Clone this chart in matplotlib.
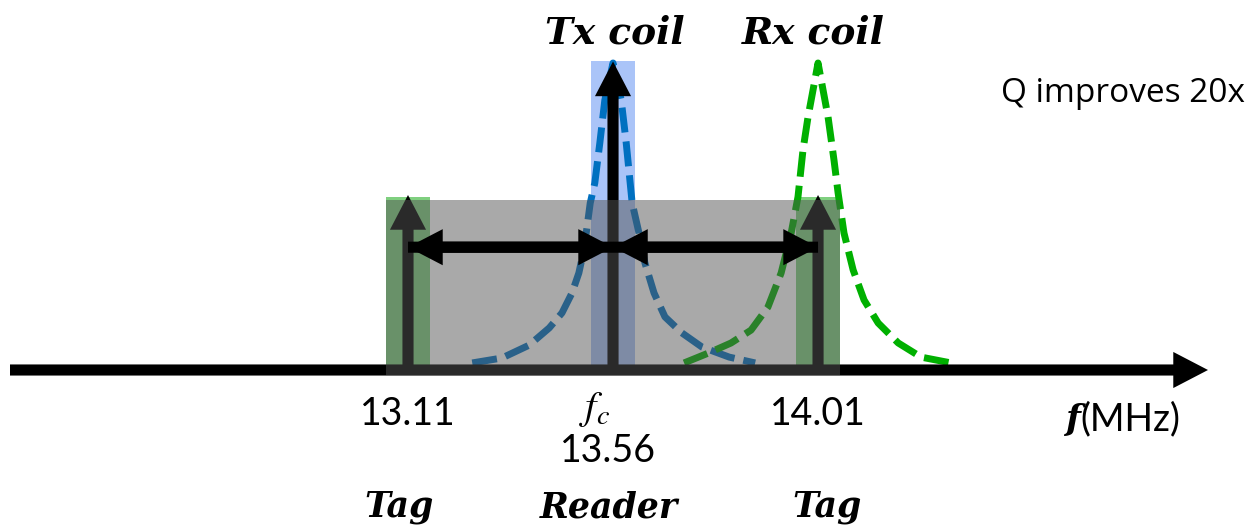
import matplotlib
matplotlib.use("Agg")
import matplotlib.pyplot as plt
from matplotlib.patches import Rectangle, FancyArrowPatch
from matplotlib.transforms import blended_transform_factory

# frequencies (MHz)
tag_freqs = [13.11, 14.01]
reader_freq = 13.56
tick_labels = ["13.11", "13.56", "14.01"]
tag_labels = ["Tag", "Tag"]

# resonance curves: offset from centre (MHz), relative amplitude
tx_df = [-0.309, -0.244, -0.184, -0.140, -0.112, -0.090, -0.075, -0.064, -0.057, -0.050,
         -0.040, -0.029, -0.018, 0.0, 0.018, 0.029, 0.042, 0.057, 0.070, 0.090, 0.114,
         0.151, 0.195, 0.255, 0.312]
tx_amp = [0.023, 0.039, 0.081, 0.137, 0.186, 0.251, 0.316, 0.391, 0.466, 0.544,
          0.609, 0.739, 0.879, 1.0, 0.879, 0.739, 0.544, 0.446, 0.349, 0.251, 0.173,
          0.121, 0.075, 0.042, 0.023]
rx_df = [-0.294, -0.241, -0.191, -0.147, -0.110, -0.081, -0.059, -0.044, -0.033, -0.022,
         0.0, 0.022, 0.035, 0.044, 0.057, 0.077, 0.101, 0.132, 0.176, 0.226, 0.292]
rx_amp = [0.023, 0.055, 0.088, 0.130, 0.205, 0.316, 0.446, 0.564, 0.717, 0.824,
          1.0, 0.824, 0.684, 0.577, 0.446, 0.326, 0.228, 0.153, 0.088, 0.042, 0.023]

band_half = 0.049       # half width of the shaded bands (MHz)
tag_level = 0.564       # height of tag bands
tag_arrow = 0.570
reader_level = 1.005
span_level = 0.40       # height of the double arrows

W, H = 1258, 531
fig = plt.figure(figsize=(W / 100, H / 100), dpi=100)
ax = fig.add_axes([0, 0, 1, 1])
ax.set_xlim(13.11 - 408 / 455.6, 13.11 + 850 / 455.6)
ax.set_ylim(-161 / 307, 370 / 307)
ax.axis("off")


def arrow(x0, y0, x1, y1, z, color="black"):
    ax.add_patch(FancyArrowPatch(
        (x0, y0), (x1, y1),
        arrowstyle="simple,head_length=25,head_width=26,tail_width=8",
        mutation_scale=1, color=color, lw=0, shrinkA=0, shrinkB=0, zorder=z))


# shaded bands
for f in tag_freqs:
    ax.add_patch(Rectangle((f - band_half, -0.016), 2 * band_half, tag_level + 0.016,
                           color="#00a000", alpha=0.5, lw=0, zorder=1))
ax.add_patch(Rectangle((reader_freq - band_half, 0), 2 * band_half, reader_level,
                       color="#aac4f8", lw=0, zorder=1))

# coil responses
ax.plot([reader_freq + d for d in tx_df], tx_amp, color="#0070c0", lw=5,
        ls=(0, (3.6, 1.3)), zorder=2)
ax.plot([tag_freqs[1] + d for d in rx_df], rx_amp, color="#00b000", lw=5,
        ls=(0, (3.6, 1.3)), zorder=2)

# frequency axis
x_lo, x_hi = ax.get_xlim()
axis_start = x_lo + 10 / 455.6
axis_end = x_hi - 50 / 455.6
arrow(axis_start, 0, axis_end, 0, 3)

# carrier and sidebands
arrow(reader_freq, 0, reader_freq, reader_level, 3)
for f in tag_freqs:
    arrow(f, 0, f, tag_arrow, 3)

# grey overlay
ax.add_patch(Rectangle((tag_freqs[0] - band_half, -0.016),
                       tag_freqs[1] - tag_freqs[0] + 2 * band_half, 0.554 + 0.016,
                       color="#545454", alpha=0.5, lw=0, zorder=4))

# offset arrows (two overlapping single arrows = one double-headed arrow)
for f in tag_freqs:
    arrow(f, span_level, reader_freq, span_level, 5)
    arrow(reader_freq, span_level, f, span_level, 5)

# text
bi_top = dict(family="DejaVu Serif", weight="bold", style="italic", fontsize=27)
bi = dict(family="DejaVu Serif", weight="bold", style="italic", fontsize=25)
num = dict(family="Lato", fontsize=27)
tr = blended_transform_factory(ax.transData, ax.transAxes)


def fy(py):
    return 1 - py / H


ax.text(reader_freq + 0.005, fy(43), "Tx coil", transform=tr, ha="center", va="baseline", **bi_top)
ax.text(tag_freqs[1] - 0.01, fy(43), "Rx coil", transform=tr, ha="center", va="baseline", **bi_top)
ax.text(tag_freqs[0], fy(425), tick_labels[0], transform=tr, ha="center", va="baseline", **num)
ax.text(tag_freqs[1], fy(425), tick_labels[2], transform=tr, ha="center", va="baseline", **num)
ax.text(reader_freq - 0.01, fy(462), tick_labels[1], transform=tr, ha="center", va="baseline", **num)
ax.text(reader_freq - 0.04, fy(409), r"$f_c$", transform=tr, ha="center", va="center",
        fontsize=29, math_fontfamily="stix")
ax.text(tag_freqs[0] - 0.02, fy(517), tag_labels[0], transform=tr, ha="center", va="baseline", **bi)
ax.text(tag_freqs[1] + 0.02, fy(517), tag_labels[1], transform=tr, ha="center", va="baseline", **bi)
ax.text(reader_freq - 0.01, fy(517), "Reader", transform=tr, ha="center", va="baseline", **bi)

ax.text(1080 / W, fy(430), "f", transform=ax.transAxes, ha="right", va="baseline", **bi)
ax.text(1080 / W, fy(430), "(MHz)", transform=ax.transAxes, ha="left", va="baseline", **num)
ax.text(1245 / W, fy(102), "Q improves 20x", transform=ax.transAxes, ha="right", va="baseline",
        family="Open Sans", fontsize=24)

fig.savefig("out.png", dpi=100)
